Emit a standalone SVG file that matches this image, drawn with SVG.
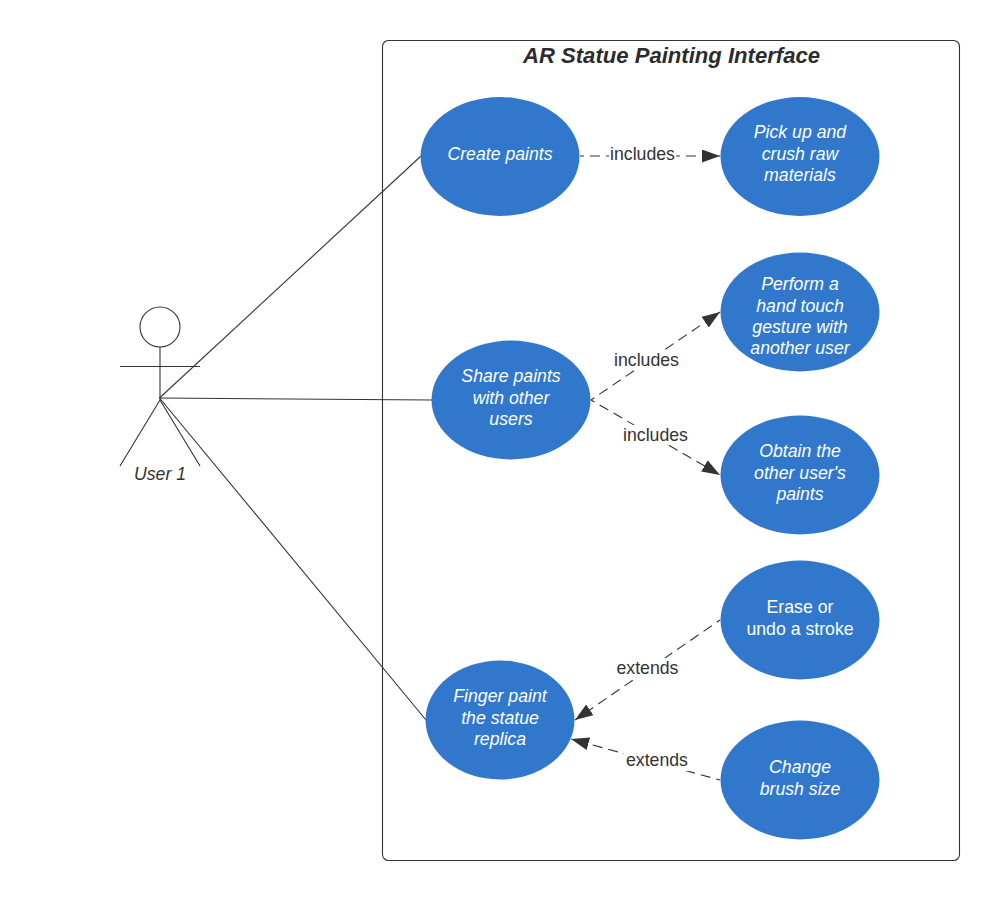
<svg xmlns="http://www.w3.org/2000/svg" width="1000" height="900" viewBox="0 0 1000 900">
<style>
text{font-family:"Liberation Sans",Arial,sans-serif;text-anchor:middle}
.uc ellipse{fill:#3178cd;stroke:none}
.uc text{fill:#fff;font-size:17.7px;font-style:italic}
.uc text.n{font-style:normal}
.l{fill:none;stroke:#333;stroke-width:1.1}
.d{fill:none;stroke:#333;stroke-width:1.1;stroke-dasharray:10 6;stroke-dashoffset:6}
.lab{fill:#333;font-size:17.7px}
.lb{fill:#fff;stroke:none}
</style>
<defs>
<marker id="a" markerUnits="userSpaceOnUse" markerWidth="20" markerHeight="14" refX="18" refY="6.5" orient="auto"><path d="M0 0L18 6.5L0 13z" fill="#333"/></marker>
</defs>
<rect width="1000" height="900" fill="#fff"/>
<g id="boundary">
<rect x="382.500" y="40.500" width="577" height="820" rx="6" fill="none" stroke="#333" stroke-width="1.100"/>
<text x="671.500" y="63" font-size="22.100" font-weight="700" font-style="italic" fill="#2c2c2c">AR Statue Painting Interface</text>
</g>
<g id="connectors">
<path class="l" d="M159.500 398L421 156"/>
<path class="l" d="M159.500 398L432 400"/>
<path class="l" d="M159.500 398L426 720"/>
<path class="d" d="M580 156H720" marker-end="url(#a)"/>
<path class="d" d="M591 400L720 312" marker-end="url(#a)"/>
<path class="d" d="M591 400L720 475" marker-end="url(#a)"/>
<path class="d" d="M720 620L575 720" marker-end="url(#a)"/>
<path class="d" d="M720 780L571 739" marker-end="url(#a)"/>
<rect class="lb" x="609" y="145" width="67" height="20"/>
<text class="lab" x="642.500" y="160">includes</text>
<rect class="lb" x="612" y="350" width="69" height="20"/>
<text class="lab" x="646.500" y="365.500">includes</text>
<rect class="lb" x="621" y="425" width="69" height="20"/>
<text class="lab" x="655.500" y="441">includes</text>
<rect class="lb" x="614" y="658" width="67" height="20"/>
<text class="lab" x="647.500" y="673.500">extends</text>
<rect class="lb" x="624" y="751" width="67" height="20"/>
<text class="lab" x="657" y="766">extends</text>
</g>
<g id="actor">
<circle cx="160" cy="327" r="20" fill="#fff" stroke="#333" stroke-width="1.100"/>
<path class="l" d="M160 347V400M120 366.500H200M160 400L120 466M160 400L200 466"/>
<text x="160" y="480" font-size="17.700" font-style="italic" fill="#333">User 1</text>
</g>
<g id="create" class="uc"><ellipse cx="500" cy="156.500" rx="79.500" ry="59.500"/><text x="500" y="160">Create paints</text></g>
<g id="pickup" class="uc"><ellipse cx="800" cy="156.500" rx="79.500" ry="59.500"/><text x="800" y="138">Pick up and</text><text x="800" y="160">crush raw</text><text x="800" y="181">materials</text></g>
<g id="gesture" class="uc"><ellipse cx="800" cy="312" rx="79.500" ry="59.500"/><text x="800" y="290">Perform a</text><text x="800" y="311.500">hand touch</text><text x="800" y="333">gesture with</text><text x="800" y="354">another user</text></g>
<g id="share" class="uc"><ellipse cx="511" cy="400" rx="79.500" ry="59.500"/><text x="511" y="382">Share paints</text><text x="511" y="403.500">with other</text><text x="511" y="425">users</text></g>
<g id="obtain" class="uc"><ellipse cx="800" cy="475" rx="79.500" ry="59.500"/><text x="800" y="457">Obtain the</text><text x="800" y="478.500">other user's</text><text x="800" y="500">paints</text></g>
<g id="erase" class="uc"><ellipse cx="800" cy="620" rx="79.500" ry="59.500"/><text class="n" x="800" y="613">Erase or</text><text class="n" x="800" y="634.500">undo a stroke</text></g>
<g id="finger" class="uc"><ellipse cx="500" cy="720" rx="74.500" ry="59.500"/><text x="500" y="702">Finger paint</text><text x="500" y="723.500">the statue</text><text x="500" y="745">replica</text></g>
<g id="brush" class="uc"><ellipse cx="800" cy="780" rx="79.500" ry="59.500"/><text x="800" y="773">Change</text><text x="800" y="794.500">brush size</text></g>
</svg>
